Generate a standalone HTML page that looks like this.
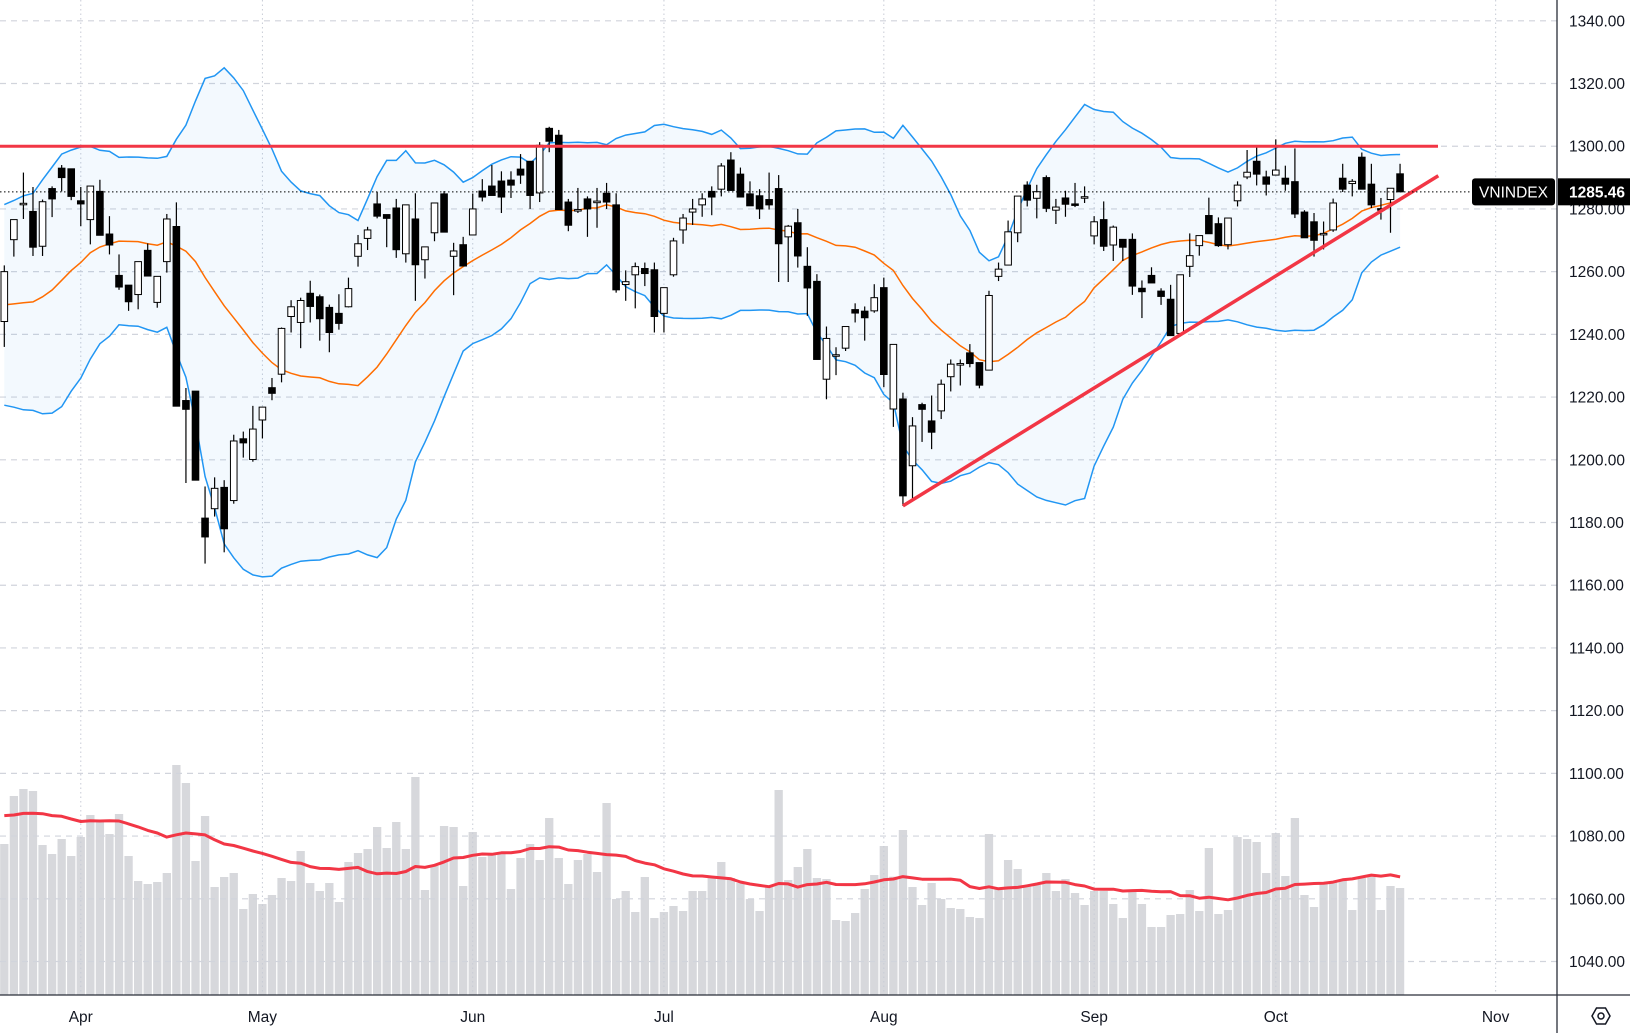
<!DOCTYPE html>
<html><head><meta charset="utf-8"><style>
html,body{margin:0;padding:0;background:#fff;}
svg{display:block;font-family:"Liberation Sans",sans-serif;}
</style></head><body>
<svg id="chart" width="1630" height="1033" viewBox="0 0 1630 1033" xmlns="http://www.w3.org/2000/svg">
<rect x="0" y="0" width="1630" height="1033" fill="#ffffff"/>
<g id="vol"></g><g id="grid"></g><g id="bands"></g><g id="candles"></g><g id="overlay"></g><g id="axis"></g>
</svg>
<script>
const opens=[1244.1,1270.2,1281.8,1279.2,1268.1,1286.5,1293,1292.8,1282.6,1276.6,1285.6,1272,1258.8,1255.7,1252.7,1266.8,1250.2,1263.2,1274.4,1218.9,1221.9,1181.4,1184.4,1191.2,1187,1206.7,1200.1,1212.7,1223,1227.3,1245.7,1243.8,1253.1,1252,1248.6,1246.7,1248.8,1264.9,1270.6,1281.6,1278.2,1280.3,1265.7,1276.8,1263.8,1272.4,1284.8,1264.9,1268.6,1271.7,1285.7,1287.3,1288.9,1289.2,1292.7,1295.2,1285.1,1305.7,1303.5,1282.2,1279.8,1283.2,1282,1285,1281.3,1255.9,1259,1261,1260.6,1246.7,1259,1273.3,1279,1281.3,1285.6,1286.3,1295.6,1291.1,1284.8,1284.2,1283,1286.5,1271.1,1275.6,1261.7,1256.9,1225.7,1233.5,1235.6,1247.9,1247.4,1247.5,1254.9,1216.2,1219.4,1198.1,1217.6,1212.4,1215.6,1226.5,1230.2,1234.1,1231,1228.6,1258.5,1262.1,1272.4,1287.6,1283.4,1290,1279.6,1283.5,1281.6,1283.9,1271.4,1276.6,1268.5,1270.3,1270.3,1254.7,1258.8,1253.8,1251.2,1240.3,1261.7,1268.3,1277.9,1275.3,1268.6,1282.6,1290.2,1295.2,1290.2,1290.8,1289.8,1288.7,1279,1275.9,1272.2,1273.3,1289.8,1288.1,1296.5,1287.9,1280.1,1283,1291.2];
const highs=[1262,1276.6,1291.6,1287,1283,1287.2,1294,1292.8,1287,1287.3,1289.3,1277.7,1265.5,1255.7,1263.2,1269,1258.5,1278.4,1282.1,1222.9,1221.9,1191.5,1194.4,1193.5,1208,1209,1217.2,1216.8,1226.1,1242.2,1250.9,1251.7,1257.1,1252.7,1249.5,1252.8,1258.1,1271.7,1274.3,1285.4,1278.2,1283.2,1281.3,1285,1267.9,1281.9,1285.7,1269.2,1271.1,1284.9,1289.5,1294,1292,1292,1297.5,1295.2,1301.3,1306.2,1305.2,1283.2,1286.7,1284,1286.7,1288.3,1285,1260.4,1262.9,1262.9,1262.9,1254.9,1270.8,1278.4,1283.2,1285,1287.2,1294.6,1298.1,1293.2,1288.8,1286.3,1291.6,1290.8,1274.9,1280,1267.8,1259.2,1242.5,1235.9,1242.5,1249.9,1248.9,1256,1258.1,1236.8,1221.4,1213.6,1218.2,1220.5,1225.6,1232,1232,1236.9,1231,1253.9,1262.9,1276.3,1284.1,1288.8,1287.7,1290.7,1283.2,1285.8,1288.3,1287.2,1277.7,1282.4,1274.7,1270.3,1272.2,1257.2,1261.4,1254.7,1255.8,1259,1272.2,1271.5,1283.6,1277.3,1277.1,1288.8,1298.8,1300.4,1292.2,1302.2,1293.8,1299.3,1279.6,1278.7,1276,1283.3,1294.4,1289.5,1298,1294.4,1283.5,1286.6,1294.4];
const lows=[1236,1264.8,1276.8,1265,1265,1277.4,1285.6,1282.8,1274.5,1268.7,1271.6,1265.5,1254.2,1247.5,1248,1258.6,1248.5,1259.7,1217,1192.6,1193.5,1166.9,1181.9,1170.5,1186,1200.7,1199.4,1206.8,1219,1224.7,1240.6,1235.6,1243.8,1238,1234.3,1241.5,1248.6,1261.6,1266.9,1277,1267.8,1264.4,1262.9,1250.7,1257.8,1269.7,1272.6,1252.5,1261.8,1271.7,1282.4,1284.3,1278.7,1283.5,1288,1280,1282.2,1298.1,1279.8,1272.9,1278.7,1271.1,1274,1280,1253.3,1250.7,1248.3,1255.4,1240.6,1240.6,1258.4,1268.9,1274.9,1277.5,1278,1284,1285.9,1283.8,1281,1276.8,1279.8,1256.7,1256.7,1261.3,1245.9,1232,1219.3,1227,1234.7,1243.8,1238,1246.9,1223.2,1210.5,1185.3,1187.7,1205.7,1203.4,1213,1221.8,1223.7,1229.5,1222.8,1228.6,1257,1262.1,1269.4,1280.8,1277,1279,1275.2,1277.5,1280.6,1281.9,1268.7,1266.6,1263.4,1263.4,1252.6,1245.2,1256.4,1249.4,1239.6,1239.3,1258.3,1265.1,1272.1,1267.9,1267.1,1280.8,1289.5,1287.5,1284.3,1290.8,1285.8,1277.1,1270.8,1264.8,1267.1,1272.7,1285.4,1284,1286.3,1280.3,1276.6,1272.4,1285.46];
const closes=[1260,1276.6,1281.8,1267.8,1282.3,1283.2,1290,1284,1281.6,1287.3,1271.6,1268.5,1255.1,1250.4,1263.2,1258.6,1258.5,1276.8,1217.1,1216.1,1193.5,1175.4,1190.9,1178,1206,1205.4,1209.8,1216.8,1221.2,1241.9,1248.8,1250.8,1248.9,1245,1240.6,1243.5,1254.6,1268.9,1273.3,1277.7,1277,1267,1281.3,1262.2,1267.9,1281.9,1272.6,1266.6,1261.8,1280,1283.8,1284.3,1283.8,1287.6,1290.8,1284.3,1300.3,1301.6,1279.8,1274.8,1279.8,1280,1282.5,1282.2,1254.2,1256.8,1261.6,1259.4,1245.7,1254.9,1269.8,1277.1,1280,1283.2,1283.8,1293.7,1285.9,1283.8,1281,1280,1281.3,1268.9,1274.5,1265,1254.8,1232,1238.7,1233.5,1242.5,1246.8,1245.3,1251.7,1227.2,1236.8,1188.5,1210.8,1216.1,1208.8,1224.1,1230.5,1230.7,1230.7,1223.8,1252.4,1260.8,1272.7,1284.1,1282.8,1285.5,1280.2,1280.6,1281.5,1281.2,1283.9,1275.9,1268.1,1274.2,1267.8,1255.4,1253.6,1256.4,1252.1,1239.6,1259,1265.1,1271.5,1272.1,1268.3,1277.1,1287.6,1291.7,1291.1,1287.9,1292.4,1287.9,1278.4,1270.8,1270,1272.2,1281.9,1286.3,1288.8,1286.3,1281.3,1279.6,1286.6,1285.46];
const volumes=[453,597,618,612,450,423,468,417,474,540,519,483,543,417,342,333,339,366,690,636,402,537,324,354,366,258,303,273,300,351,342,432,336,312,336,279,399,426,438,504,441,519,438,654,315,387,507,504,327,489,414,420,423,318,411,453,405,531,411,333,405,423,369,576,288,312,249,354,231,249,267,252,312,312,351,399,351,336,288,252,327,615,345,384,438,351,348,225,222,246,318,360,447,355,495,324,270,336,288,261,258,234,231,483,318,405,378,325,330,366,312,348,306,270,312,312,273,231,312,273,204,204,240,243,315,252,441,243,255,474,468,459,366,486,357,531,300,264,333,339,345,255,351,357,255,327,321];
const preCloses=[1270,1275,1262,1250,1240,1228,1222,1230,1225,1235,1248,1238,1252,1265,1272,1268,1255,1245,1248];
const preVolumes=[560,520,600,480,540,510,580,620,500,530,470,560,590,520,540,500,610,550,530];
const priceTicks=[1340,1320,1300,1280,1260,1240,1220,1200,1180,1160,1140,1120,1100,1080,1060,1040];
const monthLabels=["Apr","May","Jun","Jul","Aug","Sep","Oct","Nov"];
const monthIdx=[8,27,49,69,92,114,133,156];
const resistanceLevel=[1300];
const trendStart=[94,1185.3];
const trendEnd=[150,1290.6];
const symbolName="VNINDEX";

const NS="http://www.w3.org/2000/svg";
const xOf=i=>4.3+i*9.56;
const yP=p=>20.8+(1340-p)*3.1357;
const yV=v=>995-v/3;
const AXIS_X=1557;
function mk(tag,attrs,parent){const e=document.createElementNS(NS,tag);for(const k in attrs)e.setAttribute(k,attrs[k]);parent.appendChild(e);return e;}
const gVol=document.getElementById('vol'),gGrid=document.getElementById('grid'),gBands=document.getElementById('bands'),gC=document.getElementById('candles'),gO=document.getElementById('overlay'),gA=document.getElementById('axis');

volumes.forEach((v,i)=>{
  const r=mk('rect',{x:xOf(i)-4.15,y:yV(v),width:8.3,height:995-yV(v),fill:'#d7d8dc'},gVol);
  
  
});
priceTicks.forEach(p=>{
  const l=mk('line',{x1:0,x2:AXIS_X,y1:yP(p),y2:yP(p),stroke:'#d1d4dc','stroke-width':1.2,'stroke-dasharray':'6 5'},gGrid);
  
  
});
monthIdx.forEach(i=>{
  const l=mk('line',{x1:xOf(i),x2:xOf(i),y1:0,y2:995,stroke:'#c8ccd6','stroke-width':1,'stroke-dasharray':'1.5 3'},gGrid);
  
  
});
const allC=preCloses.concat(closes), allV=preVolumes.concat(volumes), P=preCloses.length;
const mid=[],up=[],lo=[],vma=[];
for(let i=0;i<closes.length;i++){
  const w=allC.slice(i+P-19,i+P+1);const m=w.reduce((a,b)=>a+b,0)/w.length;
  const sd=Math.sqrt(w.reduce((a,b)=>a+(b-m)*(b-m),0)/w.length);
  mid.push(m);up.push(m+2*sd);lo.push(m-2*sd);
  const vw=allV.slice(i+P-19,i+P+1);vma.push(vw.reduce((a,b)=>a+b,0)/vw.length);
}
const pts=(arr,f)=>arr.map((v,i)=>xOf(i).toFixed(1)+','+f(v).toFixed(1)).join(' ');
const fillPts=pts(up,yP)+' '+lo.map((v,i)=>[i,v]).reverse().map(([i,v])=>xOf(i).toFixed(1)+','+yP(v).toFixed(1)).join(' ');
const bf=mk('polygon',{points:fillPts,fill:'#2196f3','fill-opacity':0.055},gBands);


const bu=mk('polyline',{points:pts(up,yP),fill:'none',stroke:'#2196f3','stroke-width':1.5},gBands);


const bl=mk('polyline',{points:pts(lo,yP),fill:'none',stroke:'#2196f3','stroke-width':1.5},gBands);


const bm=mk('polyline',{points:pts(mid,yP),fill:'none',stroke:'#ff6d00','stroke-width':1.5},gBands);


const vm=mk('polyline',{points:pts(vma,yV),fill:'none',stroke:'#f23645','stroke-width':3,'stroke-linejoin':'round'},gBands);


closes.forEach((c,i)=>{
  const o=opens[i],x=xOf(i),upC=c>=o;
  const g=mk('g',{},gC);
  
  
  mk('line',{x1:x,x2:x,y1:yP(highs[i]),y2:yP(lows[i]),stroke:'#000','stroke-width':1.2},g);
  const top=yP(Math.max(o,c)),h=Math.max(1.5,Math.abs(yP(o)-yP(c)));
  mk('rect',{x:x-3.3,y:top,width:6.6,height:h,fill:upC?'#fff':'#000',stroke:'#000','stroke-width':1},g);
});
const rl=mk('line',{x1:0,x2:1438,y1:yP(resistanceLevel[0]),y2:yP(resistanceLevel[0]),stroke:'#f23645','stroke-width':3},gO);


const tl=mk('line',{x1:xOf(trendStart[0]),y1:yP(trendStart[1]),x2:xOf(trendEnd[0]),y2:yP(trendEnd[1]),stroke:'#f23645','stroke-width':3.5},gO);


const last=closes[closes.length-1];
const ll=mk('line',{x1:0,x2:1472,y1:yP(last),y2:yP(last),stroke:'#000','stroke-width':1,'stroke-dasharray':'1.5 2.5'},gO);


const va=mk('line',{x1:AXIS_X,x2:AXIS_X,y1:0,y2:1033,stroke:'#2a2e39','stroke-width':1.3},gA);


const ha=mk('line',{x1:0,x2:1630,y1:995,y2:995,stroke:'#2a2e39','stroke-width':1.3},gA);


priceTicks.forEach(p=>{
  const t=mk('text',{x:1569,y:yP(p)+5.5,'font-size':15.5,fill:'#131722'},gA);
  t.textContent=p.toFixed(2);
  
  
});
monthLabels.forEach((m,k)=>{
  const t=mk('text',{x:xOf(monthIdx[k]),y:1022,'font-size':15.5,fill:'#131722','text-anchor':'middle'},gA);
  t.textContent=m;
  
  
});
const ly=yP(last);
const sb=mk('rect',{x:1472,y:ly-13.5,width:83,height:27,rx:3,fill:'#000'},gA);


const st=mk('text',{x:1513.5,y:ly+5.5,'font-size':15.5,fill:'#fff','text-anchor':'middle'},gA);
st.textContent=symbolName;


const pb=mk('rect',{x:1558,y:ly-13.5,width:72,height:27,fill:'#000'},gA);


const pt=mk('text',{x:1569,y:ly+5.5,'font-size':15.5,'font-weight':'bold',fill:'#fff'},gA);
pt.textContent=last.toFixed(2);


const ic=mk('g',{},gA);


mk('polygon',{points:'1592,1016 1596.5,1008 1605.5,1008 1610,1016 1605.5,1024 1596.5,1024',fill:'none',stroke:'#131722','stroke-width':1.5},ic);
mk('circle',{cx:1601,cy:1016,r:3,fill:'none',stroke:'#131722','stroke-width':1.5},ic);
</script>
</body></html>
